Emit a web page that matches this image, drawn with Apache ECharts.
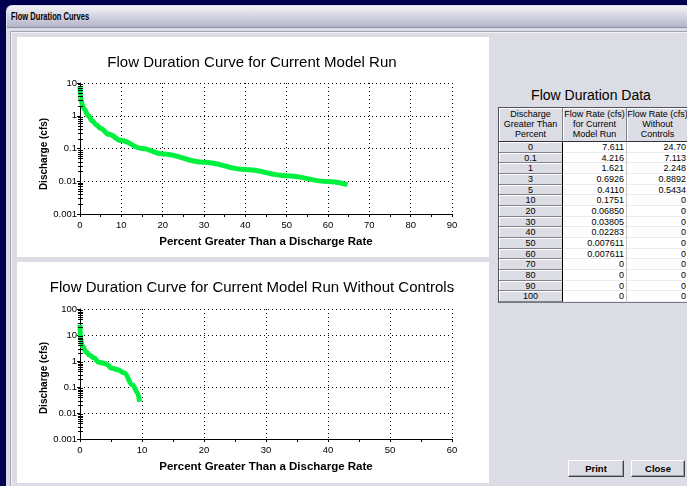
<!DOCTYPE html>
<html>
<head>
<meta charset="utf-8">
<title>Flow Duration Curves</title>
<script src="https://cdn.jsdelivr.net/npm/echarts@6/dist/echarts.min.js"></script>
<style>
  html, body { margin: 0; padding: 0; width: 687px; height: 486px; overflow: hidden; background: #00004e; }
  body { font-family: "Liberation Sans", Arial, sans-serif; position: relative; }
  .abs { position: absolute; }
  #win { left: 6px; top: 5px; width: 700px; height: 500px; background: #dcdce4; border-radius: 6px 0 0 0; }
  #titlebar { left: 7px; top: 6px; width: 700px; height: 21px; border-radius: 5px 0 0 0;
    background: linear-gradient(#f2f2f6 0%, #d6d6e2 45%, #b4b4c8 100%); border-bottom: 1px solid #8e8ea0; }
  #wintitle { left: 11px; top: 10px; font-weight: bold; font-size: 10.5px; line-height: 13px; color: #000;
    transform: scaleX(0.72); transform-origin: 0 0; white-space: nowrap; }
  #frame { left: 10px; top: 31px; width: 700px; height: 470px; border-left: 1px solid #a4a4b2; border-top: 1px solid #a4a4b2;
    box-shadow: inset 1px 1px #f4f4f8; }
  .panel { background: #fff; }
  #chart { left: 0; top: 0; width: 687px; height: 486px; }
  #dtitle { left: 498px; top: 87px; width: 186px; text-align: center; font-size: 14px; line-height: 16px; color: #000; }
  #grid { left: 498px; top: 107px; display: grid; grid-template-columns: 64px 64px 62px;
    grid-template-rows: 34px repeat(15, 10.67px); border-left: 1px solid #505058; border-top: 1px solid #505058;
    border-bottom: 1px solid #7a7a84; font-size: 9px; color: #000; background: #fff; }
  .c { box-sizing: border-box; overflow: hidden; white-space: nowrap; line-height: 10px; }
  .h { background: #dcdce4; text-align: center; padding-top: 1px; border-right: 1px solid #808088;
    border-bottom: 1px solid #303038; box-shadow: inset 1px 1px #fff; }
  .p { background: #dcdce4; text-align: center; border-right: 1px solid #000; border-bottom: 1px solid #808088;
    box-shadow: inset 1px 1px #fff; line-height: 10px; }
  .v { background: #fff; text-align: right; padding-right: 2px; border-right: 1px solid #c4c4cc;
    border-bottom: 1px solid #ececf0; line-height: 10px; }
  .btn { top: 460px; height: 17px; box-sizing: border-box; background: #dcdce4; border: 1px solid;
    border-color: #ffffff #404048 #404048 #ffffff; box-shadow: inset -1px -1px #a0a0ac;
    font-weight: bold; font-size: 9.5px; line-height: 15px; text-align: center; color: #000; }
</style>
</head>
<body>
<div id="win" class="abs"></div>
<div id="titlebar" class="abs"></div>
<div id="wintitle" class="abs">Flow Duration Curves</div>
<div id="frame" class="abs"></div>
<div class="abs panel" style="left:17px;top:37px;width:472px;height:220px;"></div>
<div class="abs panel" style="left:17px;top:262px;width:472px;height:221px;"></div>
<div id="dtitle" class="abs">Flow Duration Data</div>
<div id="grid" class="abs"></div>
<div class="abs btn" style="left:568px;width:56px;">Print</div>
<div class="abs btn" style="left:631px;width:54px;">Close</div>
<div id="chart" class="abs"></div>

<script>
// ---- Table contents ----
const tableHeaders = [
  ['Discharge', 'Greater Than', 'Percent'],
  ['Flow Rate (cfs)', 'for Current', 'Model Run'],
  ['Flow Rate (cfs)', 'Without', 'Controls']
];
const exceedPercent = ['0', '0.1', '1', '3', '5', '10', '20', '30', '40', '50', '60', '70', '80', '90', '100'];
const rateCurrent = ['7.611', '4.216', '1.621', '0.6926', '0.4110', '0.1751', '0.06850', '0.03805', '0.02283',
  '0.007611', '0.007611', '0', '0', '0', '0'];
const rateWithout = ['24.70', '7.113', '2.248', '0.8892', '0.5434', '0', '0', '0', '0', '0', '0', '0', '0', '0', '0'];

// ---- Curve samples (percent exceeded, discharge in cfs) ----
const currentPct  = [0, 0.1, 0.3, 0.6, 1, 2, 3, 4, 5, 7, 10, 15, 20, 30, 40, 50, 60, 64.7];
const currentFlow = [7.611, 4.216, 2.9, 2.1, 1.621, 1.0, 0.6926, 0.52, 0.4110, 0.27, 0.1751, 0.10, 0.06850,
  0.03805, 0.02283, 0.0148, 0.0098, 0.0079];
const noCtrlPct  = [0, 0.1, 0.4, 1, 1.5, 2.3, 3, 3.9, 4.45, 5, 6.1, 7.1, 8.5, 9.3, 9.6];
const noCtrlFlow = [24.70, 7.113, 3.6, 2.248, 1.7, 1.3, 0.8892, 0.82, 0.72, 0.5434, 0.46, 0.35, 0.12, 0.059, 0.027];

// ---- Axis text ----
const chartTitles = ['Flow Duration Curve for Current Model Run',
  'Flow Duration Curve for Current Model Run Without Controls'];
const xAxisName = 'Percent Greater Than a Discharge Rate';
const yAxisName = 'Discharge (cfs)';
const xMax = [90, 60];
const yTickLabels = [
  ['0.001', '0.01', '0.1', '1', '10'],
  ['0.001', '0.01', '0.1', '1', '10', '100']
];

// build the data table
const grid = document.getElementById('grid');
function cell(cls, html) {
  const d = document.createElement('div');
  d.className = 'c ' + cls;
  d.innerHTML = html;
  grid.appendChild(d);
}
tableHeaders.forEach(lines => cell('h', lines.join('<br>')));
exceedPercent.forEach((p, i) => {
  cell('p', p);
  cell('v', rateCurrent[i]);
  cell('v', rateWithout[i]);
});

// ---- Charts ----
const FONT = '"Liberation Sans", Arial, sans-serif';
const GREEN = '#00f040';
const chart = echarts.init(document.getElementById('chart'), null, { renderer: 'canvas' });

function pairs(xs, ys) { return xs.map((x, i) => [x, ys[i]]); }

function xAxis(gi) {
  return {
    gridIndex: gi, type: 'value', min: 0, max: xMax[gi], interval: 10,
    name: xAxisName, nameLocation: 'middle', nameGap: 22, nameMoveOverlap: false,
    nameTextStyle: { fontSize: 11.5, fontWeight: 'bold', color: '#000', fontFamily: FONT },
    axisLine: { show: true, onZero: false, lineStyle: { color: '#000', width: 1 } },
    axisTick: { show: true, length: 3, lineStyle: { color: '#000' } },
    minorTick: { show: true, splitNumber: 2, length: 3, lineStyle: { color: '#000' } },
    minorSplitLine: { show: false },
    axisLabel: { color: '#000', fontSize: 9.5, margin: 6, fontFamily: FONT },
    splitLine: { show: true, lineStyle: { color: '#000', type: [1, 3], width: 1 } }
  };
}
function yAxis(gi, lo, hi, pad) {
  const labels = yTickLabels[gi];
  return {
    gridIndex: gi, type: 'log', logBase: 10, min: lo, max: hi,
    name: yAxisName, nameLocation: 'middle', nameGap: 31, nameMoveOverlap: false,
    nameTextStyle: { fontSize: 10, fontWeight: 'bold', color: '#000', fontFamily: FONT, padding: [0, pad, 0, 0] },
    axisLine: { show: true, onZero: false, lineStyle: { color: '#000', width: 1 } },
    axisTick: { show: true, length: 3, lineStyle: { color: '#000' } },
    axisLabel: {
      color: '#000', fontSize: 9.5, margin: 3, fontFamily: FONT,
      formatter: v => labels[Math.round(Math.log10(v) - Math.log10(lo))] || ''
    },
    splitLine: { show: true, lineStyle: { color: '#000', type: [1, 3], width: 1 } }
  };
}

const titleGraphics = [
  { type: 'text', x: 252, y: 63, silent: true,
    style: { text: chartTitles[0], fill: '#000', font: '15px ' + FONT, textAlign: 'center', textVerticalAlign: 'middle' } },
  { type: 'text', x: 252, y: 288, silent: true,
    style: { text: chartTitles[1], fill: '#000', font: '15px ' + FONT, textAlign: 'center', textVerticalAlign: 'middle' } }
];

chart.setOption({
  backgroundColor: 'transparent',
  animation: false,
  grid: [
    { left: 80, top: 83, width: 372, height: 131, containLabel: false, outerBoundsMode: 'none' },
    { left: 80, top: 309, width: 372, height: 130, containLabel: false, outerBoundsMode: 'none' }
  ],
  xAxis: [xAxis(0), xAxis(1)],
  yAxis: [yAxis(0, 0.001, 10, 11), yAxis(1, 0.001, 100, 8)],
  series: [
    { type: 'line', xAxisIndex: 0, yAxisIndex: 0, data: pairs(currentPct, currentFlow),
      showSymbol: false, smooth: 0.4, smoothMonotone: 'x', lineStyle: { color: GREEN, width: 5 }, z: 5 },
    { type: 'line', xAxisIndex: 1, yAxisIndex: 1, data: pairs(noCtrlPct, noCtrlFlow),
      showSymbol: false, smooth: 0.4, smoothMonotone: 'x', lineStyle: { color: GREEN, width: 5 }, z: 5 }
  ],
  graphic: { elements: titleGraphics }
});

// logarithmic minor ticks (2..9 within each decade) placed through the axis scale
function minorLogTicks(gi, loExp, hiExp) {
  const out = [];
  for (let e = loExp; e < hiExp; e++) {
    for (let k = 2; k <= 9; k++) {
      const p = chart.convertToPixel({ gridIndex: gi }, [0, k * Math.pow(10, e)]);
      const y = Math.round(p[1]) + 0.5;
      out.push({ type: 'line', silent: true, z: 10,
        shape: { x1: p[0] - 2, y1: y, x2: p[0] + 3, y2: y },
        style: { stroke: '#000', lineWidth: 1 } });
    }
  }
  return out;
}
chart.setOption({
  graphic: { elements: titleGraphics.concat(minorLogTicks(0, -3, 1), minorLogTicks(1, -3, 2)) }
});
</script>
</body>
</html>
